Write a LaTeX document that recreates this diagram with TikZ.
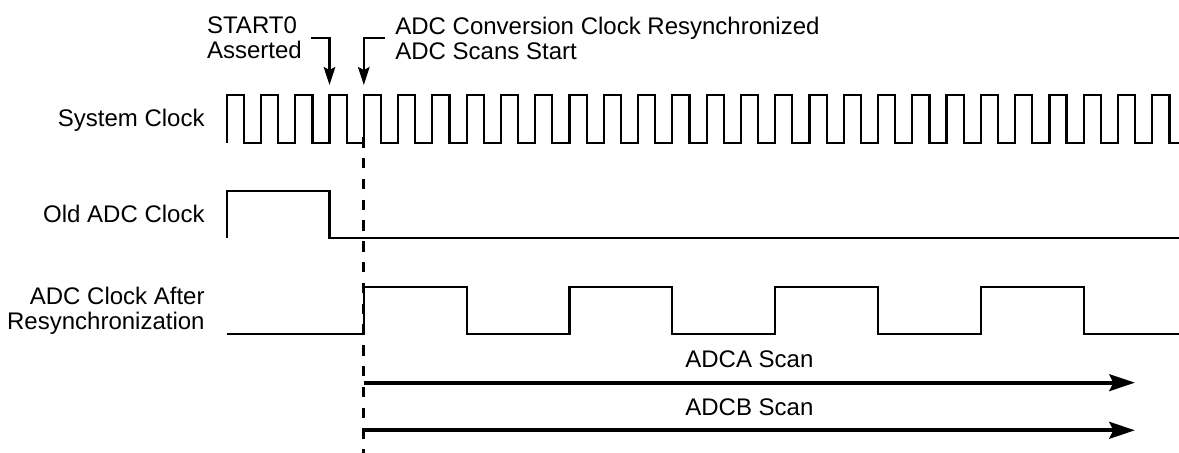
\documentclass[tikz,border=0pt]{standalone}
\usepackage{fontspec}
\setmainfont{Liberation Sans}
\usepackage{tikz}
\usetikzlibrary{arrows.meta,positioning,calc}

\begin{document}
\begin{tikzpicture}[
  x=0.5pt,y=-0.5pt,
  lbl/.style={font=\fontsize{12}{12.5}\selectfont,inner sep=0},
  sig/.style={line width=1.1pt,line join=miter},
  guide/.style={line width=1.4pt,dash pattern=on 5.2pt off 5.2pt},
  note/.style={-{Stealth[length=9pt,width=5.8pt,inset=1.5pt]},line width=1.1pt},
  scan/.style={-{Stealth[length=12.8pt,width=8.3pt,inset=2pt]},line width=2pt}
]
\useasboundingbox (0,0) rectangle (1179,453);

\node[lbl,anchor=base east] (sysclk) at (205,126.7) {System Clock};
\node[lbl,anchor=base east] (oldclk) at (205,222.7) {Old ADC Clock};
\node[lbl,align=right,anchor=east] (newclk) at (205,310.5) {ADC Clock After\\Resynchronization};
\node[lbl,align=left,anchor=north west] (start) at (206.7,16.5) {START0\\Asserted};
\node[lbl,align=left,anchor=north west] (resync) at (395,16.5) {ADC Conversion Clock Resynchronized\\ADC Scans Start};

% waveforms
\draw[sig] (226.7,143) \foreach \k in {0,...,26} { -- ++(0,-48) -- ++(17.14,0) -- ++(0,48) -- ++(17.14,0) }
  -- ++(0,-48) -- ++(17.14,0) -- ++(0,48) -- (1179,143);
\draw[sig] (226.7,238) |- (329.5,191) |- (1179,238);
\draw[sig] (226.7,334) -- (363.8,334) \foreach \k in {0,1,2} { -- ++(0,-47) -- ++(102.85,0) -- ++(0,47) -- ++(102.85,0) }
  -- ++(0,-47) -- ++(102.85,0) -- ++(0,47) -- (1179,334);

\coordinate (st0 tip) at (329.5,85);
\coordinate (sync tip) at (363.8,85);
\coordinate (sync top) at (363.8,137.2);
\coordinate (sync bot) at (363.8,453);
\coordinate (adca start) at (363.8,382.7);
\coordinate (adca end) at (1135,382.7);
\coordinate (adcb start) at (363.8,430.3);
\coordinate (adcb end) at (1135,430.3);

\draw[note] ([xshift=4.5pt]start.east) -| (st0 tip);
\draw[note] ([xshift=-5pt]resync.west) -| (sync tip);
\draw[guide] (sync top) -- (sync bot);
\draw[scan] (adca start) -- (adca end) node[lbl,midway,above=6.6pt] (adca) {ADCA Scan};
\draw[scan] (adcb start) -- (adcb end) node[lbl,midway,above=6.3pt] (adcb) {ADCB Scan};
\end{tikzpicture}
\end{document}
